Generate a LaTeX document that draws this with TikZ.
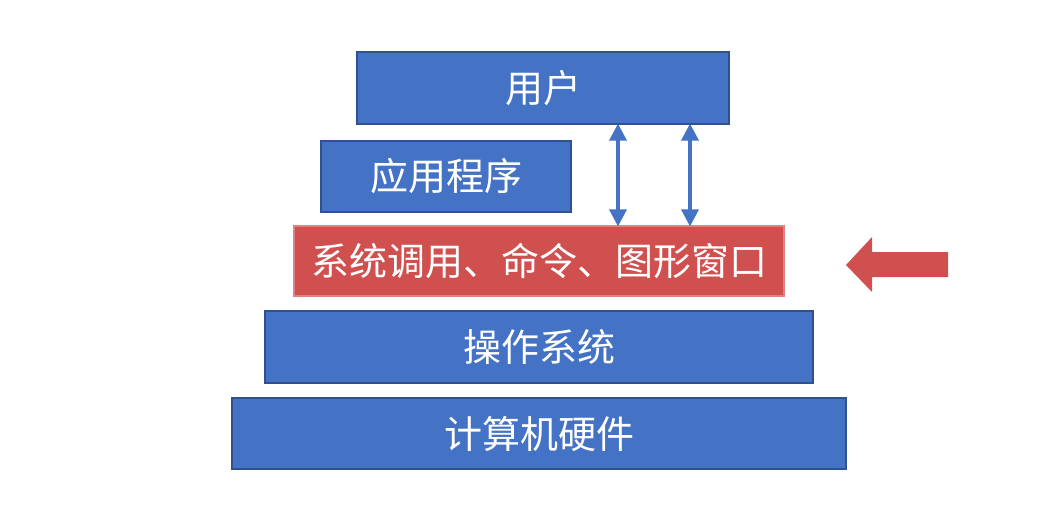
\documentclass[tikz,border=0pt]{standalone}
\usepackage{fontspec}
\setmainfont{Noto Sans CJK SC}
\usetikzlibrary{arrows.meta}
\definecolor{boxblue}{HTML}{4472C4}
\definecolor{boxblueedge}{HTML}{2F528F}
\definecolor{boxred}{HTML}{D05050}
\definecolor{boxrededge}{HTML}{E08080}
\begin{document}
\begin{tikzpicture}[x=1pt,y=-1pt,
  layer/.style={draw=boxblueedge,line width=1.2pt,fill=boxblue,text=white,inner sep=0pt,
    font=\fontsize{38}{42}\selectfont},
  redlayer/.style={layer,draw=boxrededge,fill=boxred},
  link/.style={draw=boxblue,line width=3.5pt,{Triangle[width=17pt,length=17pt]}-{Triangle[width=17pt,length=17pt]},shorten <=-1pt,shorten >=-1pt}]
\useasboundingbox (0,0) rectangle (1038,519);
\path (543,88) node[layer,minimum width=372pt,minimum height=72pt] (user) {用户};
\path (446,176.5) node[layer,minimum width=250pt,minimum height=71pt] (app) {应用程序};
\path (539,261) node[redlayer,minimum width=490pt,minimum height=70pt] (sys) {系统调用、命令、图形窗口};
\path (539,347) node[layer,minimum width=548pt,minimum height=72pt] (os) {操作系统};
\path (539,433.5) node[layer,minimum width=614pt,minimum height=71pt] (hw) {计算机硬件};
\path (user.south -| 618,0) coordinate (a1t) (sys.north -| 618,0) coordinate (a1b)
      (user.south -| 690,0) coordinate (a2t) (sys.north -| 690,0) coordinate (a2b);
\draw[link] (a1t) -- (a1b);
\draw[link] (a2t) -- (a2b);
\fill[boxred] (846,265) -- (872,237) -- (872,252) -- (948,252) -- (948,277) -- (872,277) -- (872,292) -- cycle;
\end{tikzpicture}
\end{document}
